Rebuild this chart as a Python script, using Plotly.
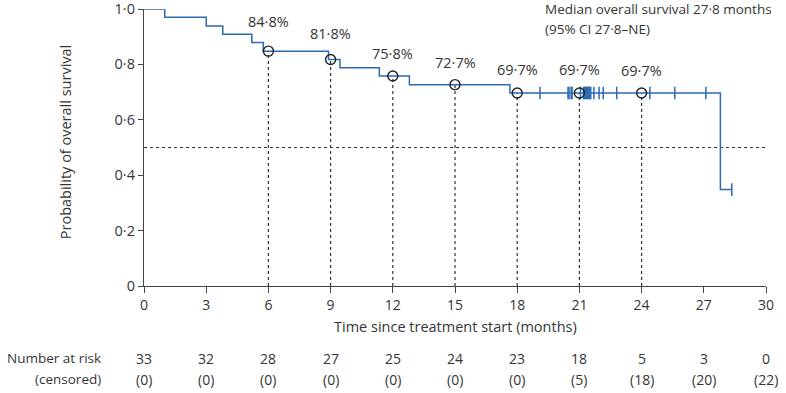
import numpy as np
import plotly.graph_objects as go

# ---- data ----
step_times = [0, 1.0, 3.0, 3.8, 5.2, 5.75, 8.9, 9.45, 11.35, 12.8, 17.65, 27.8]
step_surv = [1.0, 0.970, 0.939, 0.909, 0.879, 0.848, 0.818, 0.788, 0.758, 0.727, 0.697, 0.348]
follow_end = 28.35

censor_times = [19.1, 20.45, 20.5, 20.6, 20.65, 21.05, 21.2, 21.25, 21.3, 21.35, 21.4,
                21.45, 21.5, 21.55, 21.7, 21.95, 22.15, 22.8, 24.4, 25.6, 27.1, 28.35]

mile_times = [6, 9, 12, 15, 18, 21, 24]
mile_surv = [0.848, 0.818, 0.758, 0.727, 0.697, 0.697, 0.697]
mile_labels = ["84·8%", "81·8%", "75·8%", "72·7%", "69·7%", "69·7%", "69·7%"]
label_shift = [30, 26, 23, 22, 23, 23, 22]

risk_times = [0, 3, 6, 9, 12, 15, 18, 21, 24, 27, 30]
at_risk = [33, 32, 28, 27, 25, 24, 23, 18, 5, 3, 0]
censored = [0, 0, 0, 0, 0, 0, 0, 5, 18, 20, 22]

y_ticks = [0, 0.2, 0.4, 0.6, 0.8, 1.0]
y_ticktext = ["0", "0·2", "0·4", "0·6", "0·8", "1·0"]
x_ticks = [0, 3, 6, 9, 12, 15, 18, 21, 24, 27, 30]

BLUE = "#2b6cb3"
TXT = "#353535"
FONT = "Open Sans"

# survival at censor times via step lookup
idx = np.searchsorted(step_times, censor_times, side="right") - 1
censor_surv = [step_surv[i] for i in idx]

fig = go.Figure()

# reference lines
fig.add_trace(go.Scatter(x=[0, 30], y=[0.5, 0.5], mode="lines",
                         line=dict(color="#333", width=1.2, dash="3px,3px"),
                         hoverinfo="skip", showlegend=False))
for t, s in zip(mile_times, mile_surv):
    fig.add_trace(go.Scatter(x=[t, t], y=[0, s], mode="lines",
                             line=dict(color="#333", width=1.2, dash="3px,3px"),
                             hoverinfo="skip", showlegend=False))

# KM curve
fig.add_trace(go.Scatter(x=step_times + [follow_end], y=step_surv + [step_surv[-1]],
                         mode="lines", line=dict(color=BLUE, width=1.5, shape="hv"),
                         showlegend=False, cliponaxis=False))
fig.add_trace(go.Scatter(x=censor_times, y=censor_surv, mode="markers",
                         marker=dict(symbol="line-ns", size=9, line=dict(color=BLUE, width=1.5)),
                         showlegend=False, cliponaxis=False))
fig.add_trace(go.Scatter(x=mile_times, y=mile_surv, mode="markers",
                         marker=dict(symbol="circle-open", size=10, color="#222",
                                     line=dict(color="#222", width=1.4)),
                         showlegend=False, cliponaxis=False))


def txt(size=13.5, **kw):
    d = dict(showarrow=False, xanchor="center", yanchor="middle",
             font=dict(size=size, color=TXT, family=FONT))
    d.update(kw)
    return d


ann = []
for t, s, lab, sh in zip(mile_times, mile_surv, mile_labels, label_shift):
    ann.append(txt(size=14.5, x=t, y=s, text=lab, yshift=sh))

for t, n, c in zip(risk_times, at_risk, censored):
    ann.append(txt(size=14, x=t, xref="x", y=-0.26, yref="paper", text=str(n)))
    ann.append(txt(size=14, x=t, xref="x", y=-0.336, yref="paper", text=f"({c})"))
ann.append(txt(x=-0.066, xref="paper", y=-0.26, yref="paper", text="Number at risk",
               xanchor="right"))
ann.append(txt(x=-0.066, xref="paper", y=-0.336, yref="paper", text="(censored)",
               xanchor="right"))
ann.append(txt(size=14.5, x=0.5, xref="paper", y=-0.148, yref="paper",
               text="Time since treatment start (months)"))
ann.append(txt(size=14.5, x=-0.125, xref="paper", y=0.52, yref="paper", textangle=-90,
               text="Probability of overall survival"))
ann.append(txt(x=0.641, xref="paper", y=1.0, yref="paper", xanchor="left",
               text="Median overall survival 27·8 months"))
ann.append(txt(x=0.641, xref="paper", y=0.928, yref="paper", xanchor="left",
               text="(95% CI 27·8–NE)"))

fig.update_layout(
    width=786, height=393,
    margin=dict(l=144, r=20, t=9, b=107, autoexpand=False),
    plot_bgcolor="white", paper_bgcolor="white",
    annotations=ann,
    font=dict(family=FONT, color=TXT, size=13.5),
    xaxis=dict(range=[0, 30], tickvals=x_ticks, showgrid=False, zeroline=False,
               showline=True, linecolor="#444", linewidth=1.3, ticks="outside",
               ticklen=6, tickwidth=1.3, tickcolor="#444", automargin=False,
               tickfont=dict(size=14, color=TXT, family=FONT)),
    yaxis=dict(range=[0, 1.0001], tickvals=y_ticks, ticktext=y_ticktext, showgrid=False,
               zeroline=False, showline=True, linecolor="#444", linewidth=1.3,
               ticks="outside", ticklen=5, tickwidth=1.3, tickcolor="#444",
               ticklabeloverflow="allow", automargin=False,
               tickfont=dict(size=14.5, color=TXT, family=FONT)),
)

fig.write_html("out.html")
